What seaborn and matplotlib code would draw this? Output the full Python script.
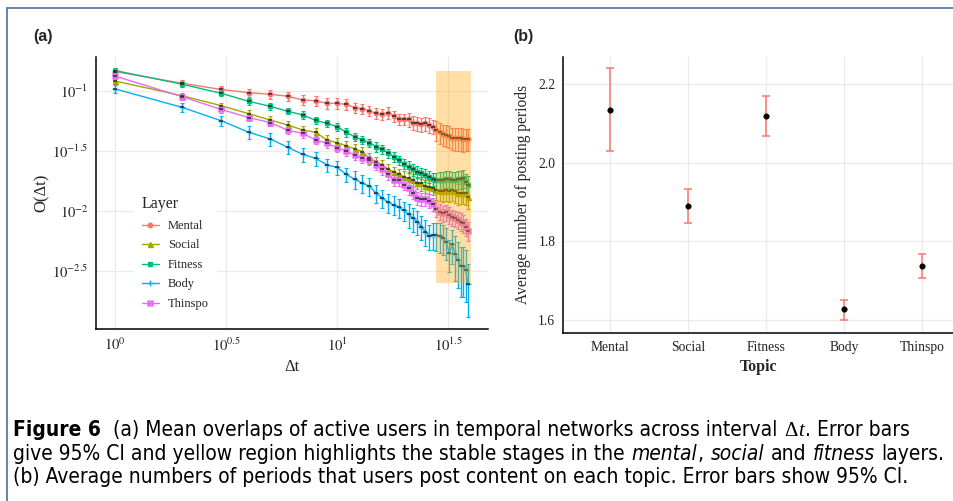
import numpy as np
import pandas as pd
import matplotlib
matplotlib.use("Agg")
from matplotlib import pyplot as plt
from matplotlib import font_manager as fm
from matplotlib.lines import Line2D
from matplotlib.path import Path
from matplotlib.ticker import NullLocator
import seaborn as sns

# ---- data ----
dt = list(range(1, 40))
layers = ['Mental', 'Social', 'Fitness', 'Body', 'Thinspo']

mental = [0.145, 0.116, 0.103, 0.0968, 0.0938, 0.0904, 0.0841, 0.0830, 0.0789, 0.0789,
          0.0774, 0.0726, 0.0713, 0.0681, 0.0652, 0.0640, 0.0659, 0.0619, 0.0581, 0.0581,
          0.0581, 0.0545, 0.0538, 0.0527, 0.0538, 0.0518, 0.0505, 0.0473, 0.0453, 0.0436,
          0.0430, 0.0422, 0.0408, 0.0404, 0.0404, 0.0404, 0.0395, 0.0401, 0.0401]
social = [0.121, 0.0914, 0.0755, 0.0647, 0.0573, 0.0521, 0.0473, 0.0453, 0.0391, 0.0371,
          0.0350, 0.0329, 0.0312, 0.0275, 0.0258, 0.0242, 0.0222, 0.0213, 0.0202, 0.0193,
          0.0187, 0.0181, 0.0172, 0.0170, 0.0161, 0.0160, 0.0156, 0.0150, 0.0147, 0.0147,
          0.0150, 0.0147, 0.0150, 0.0147, 0.0140, 0.0142, 0.0142, 0.0140, 0.0132]
fitness = [0.148, 0.114, 0.0957, 0.0820, 0.0745, 0.0678, 0.0631, 0.0570, 0.0538, 0.0505,
           0.0453, 0.0416, 0.0391, 0.0371, 0.0344, 0.0327, 0.0303, 0.0284, 0.0266, 0.0247,
           0.0234, 0.0222, 0.0213, 0.0206, 0.0200, 0.0193, 0.0185, 0.0181, 0.0181, 0.0181,
           0.0184, 0.0184, 0.0181, 0.0181, 0.0184, 0.0185, 0.0187, 0.0175, 0.0165]
body = [0.104, 0.0731, 0.0566, 0.0453, 0.0398, 0.0340, 0.0296, 0.0275, 0.0242, 0.0231,
        0.0202, 0.0184, 0.0170, 0.0161, 0.0140, 0.0128, 0.0118, 0.0112, 0.0107, 0.0101,
        0.00938, 0.00869, 0.00815, 0.00740, 0.00673, 0.00619, 0.00631, 0.00631, 0.00619, 0.00592,
        0.00555, 0.00444, 0.00531, 0.00439, 0.00391, 0.00348, 0.00348, 0.00322, 0.00245]
thinspo = [0.133, 0.0897, 0.0703, 0.0600, 0.0545, 0.0470, 0.0444, 0.0391, 0.0366, 0.0337,
           0.0316, 0.0293, 0.0278, 0.0266, 0.0242, 0.0222, 0.0202, 0.0181, 0.0181, 0.0165,
           0.0155, 0.0142, 0.0128, 0.0125, 0.0125, 0.0122, 0.0114, 0.0104, 0.00986, 0.00957,
           0.00973, 0.00927, 0.00885, 0.00869, 0.00841, 0.00815, 0.00789, 0.00740, 0.00685]

# 95% CI half width, relative to the mean
mental_ci = [0.05, 0.06, 0.07, 0.08, 0.08, 0.08, 0.10, 0.10, 0.10, 0.10,
             0.10, 0.10, 0.10, 0.10, 0.11, 0.11, 0.11, 0.11, 0.11, 0.11,
             0.13, 0.13, 0.13, 0.13, 0.13, 0.14, 0.14, 0.19, 0.20, 0.20,
             0.20, 0.20, 0.21, 0.21, 0.21, 0.21, 0.21, 0.21, 0.21]
social_ci = [0.05, 0.06, 0.06, 0.07, 0.07, 0.07, 0.09, 0.09, 0.09, 0.09,
             0.09, 0.10, 0.10, 0.10, 0.10, 0.10, 0.10, 0.10, 0.11, 0.11,
             0.12, 0.12, 0.12, 0.13, 0.13, 0.13, 0.13, 0.18, 0.18, 0.19,
             0.19, 0.19, 0.19, 0.20, 0.20, 0.20, 0.20, 0.20, 0.21]
fitness_ci = [0.04, 0.05, 0.05, 0.06, 0.06, 0.06, 0.07, 0.07, 0.07, 0.08,
              0.08, 0.08, 0.08, 0.08, 0.09, 0.09, 0.09, 0.09, 0.09, 0.09,
              0.11, 0.11, 0.11, 0.11, 0.12, 0.12, 0.12, 0.15, 0.16, 0.16,
              0.16, 0.16, 0.16, 0.17, 0.17, 0.17, 0.17, 0.17, 0.18]
body_ci = [0.07, 0.08, 0.10, 0.12, 0.12, 0.12, 0.13, 0.13, 0.13, 0.13,
           0.13, 0.17, 0.17, 0.17, 0.17, 0.18, 0.18, 0.18, 0.18, 0.18,
           0.23, 0.23, 0.23, 0.23, 0.24, 0.24, 0.25, 0.27, 0.28, 0.28,
           0.29, 0.30, 0.32, 0.40, 0.42, 0.45, 0.45, 0.46, 0.47]
thinspo_ci = [0.05, 0.06, 0.06, 0.07, 0.07, 0.07, 0.08, 0.08, 0.08, 0.08,
              0.09, 0.09, 0.09, 0.09, 0.10, 0.10, 0.10, 0.10, 0.10, 0.10,
              0.12, 0.12, 0.12, 0.12, 0.12, 0.13, 0.13, 0.15, 0.15, 0.15,
              0.15, 0.16, 0.16, 0.16, 0.16, 0.17, 0.17, 0.17, 0.18]

topics = ['Mental', 'Social', 'Fitness', 'Body', 'Thinspo']
periods_mean = [2.135, 1.889, 2.120, 1.627, 1.737]
periods_lo = [2.030, 1.848, 2.069, 1.599, 1.708]
periods_hi = [2.241, 1.932, 2.171, 1.652, 1.767]

# stable stage highlight
span_x = (28, 40)
span_y = (0.0025, 0.147)

# ---- style ----
sns.set_style('white')
plt.rcParams['font.family'] = ['Liberation Serif', 'DejaVu Serif']
plt.rcParams['mathtext.fontset'] = 'stix'

palette = {'Mental': '#F8766D', 'Social': '#A3A500', 'Fitness': '#00BF7D',
           'Body': '#00B0F6', 'Thinspo': '#E76BF3'}
boxx = Path([(-1, -1), (1, -1), (1, 1), (-1, 1), (-1, -1), (-1, -1), (1, 1), (-1, 1), (1, -1)],
            [Path.MOVETO, Path.LINETO, Path.LINETO, Path.LINETO, Path.CLOSEPOLY,
             Path.MOVETO, Path.LINETO, Path.MOVETO, Path.LINETO])
mk = {'Mental': dict(marker='o', ms=3.2),
      'Social': dict(marker='^', ms=3.6),
      'Fitness': dict(marker='s', ms=3.4),
      'Body': dict(marker='+', ms=5, mew=1.0),
      'Thinspo': dict(marker=boxx, ms=3.6, mfc='none', mew=0.9)}

fig = plt.figure(figsize=(9.54, 5.01), dpi=100)
W, H = 954, 501
ax1 = fig.add_axes([96 / W, 1 - 329 / H, 392 / W, 272 / H])
ax2 = fig.add_axes([563 / W, 1 - 333 / H, 391 / W, 276 / H])

grid_c = '#EBEBEB'
tick_c = '#222222'


def style_axes(ax, size):
    for s in ['top', 'right']:
        ax.spines[s].set_visible(False)
    for s in ['left', 'bottom']:
        ax.spines[s].set_color('black')
        ax.spines[s].set_linewidth(1.1)
    ax.grid(True, color=grid_c, lw=1.0)
    ax.set_axisbelow(True)
    ax.tick_params(axis='both', which='major', length=2.5, width=0.7, color='#333333',
                   labelcolor=tick_c, labelsize=size, pad=3)


# ---- panel (a) ----
series = {'Mental': (mental, mental_ci), 'Social': (social, social_ci),
          'Fitness': (fitness, fitness_ci), 'Body': (body, body_ci),
          'Thinspo': (thinspo, thinspo_ci)}
df = pd.DataFrame({'dt': dt * 5,
                   'O': mental + social + fitness + body + thinspo,
                   'Layer': np.repeat(layers, len(dt))})
sns.lineplot(data=df, x='dt', y='O', hue='Layer', palette=palette, lw=1.0,
             legend=False, ax=ax1, zorder=2)
for name in layers:
    vals, ci = series[name]
    vals = np.array(vals)
    err = vals * np.array(ci)
    ax1.errorbar(dt, vals, yerr=err, fmt='none', ecolor=palette[name], elinewidth=1.0,
                 capsize=1.3, capthick=0.8, zorder=3)
    ax1.plot(dt, vals, ls='none', color=palette[name], zorder=4, **mk[name])
    ax1.plot(dt, vals, ls='none', marker='_', ms=3.2, mew=1.1, color='#2a2a2a', zorder=5)

ax1.fill_between(list(span_x), span_y[0], span_y[1], color='orange', alpha=0.35, lw=0, zorder=6)

ax1.set_xscale('log')
ax1.set_yscale('log')
ax1.set_xlim(10 ** -0.086, 10 ** 1.68)
ax1.set_ylim(10 ** -2.983, 10 ** -0.717)
ax1.set_xticks([1, 10 ** 0.5, 10, 10 ** 1.5])
ax1.set_xticklabels([r'$10^{0}$', r'$10^{0.5}$', r'$10^{1}$', r'$10^{1.5}$'])
ax1.set_yticks([10 ** -1, 10 ** -1.5, 10 ** -2, 10 ** -2.5])
ax1.set_yticklabels([r'$10^{-1}$', r'$10^{-1.5}$', r'$10^{-2}$', r'$10^{-2.5}$'])
ax1.xaxis.set_minor_locator(NullLocator())
ax1.yaxis.set_minor_locator(NullLocator())
style_axes(ax1, 10.5)
ax1.set_xlabel('Δt', fontsize=12, labelpad=4)
ax1.set_ylabel('O(Δt)', fontsize=12, labelpad=2)

handles = [Line2D([], [], color=palette[n], lw=1.0, **mk[n]) for n in layers]
leg = ax1.legend(handles, layers, title='Layer', loc='upper left',
                 bbox_to_anchor=(0.097, 0.515), borderaxespad=0, frameon=True,
                 fontsize=9, title_fontsize=11.5, handlelength=1.4, handletextpad=0.7,
                 labelspacing=0.6, alignment='left', borderpad=0.6)
leg.get_frame().set_facecolor('white')
leg.get_frame().set_edgecolor('white')
leg.get_frame().set_alpha(1)
leg.set_zorder(7)

# ---- panel (b) ----
df2 = pd.DataFrame({'Topic': topics, 'mean': periods_mean})
yerr = [np.array(periods_mean) - np.array(periods_lo),
        np.array(periods_hi) - np.array(periods_mean)]
ax2.errorbar(range(len(topics)), periods_mean, yerr=yerr, fmt='none', ecolor='#F8766D',
             elinewidth=1.1, capsize=3.0, capthick=1.1, zorder=3)
sns.scatterplot(data=df2, x='Topic', y='mean', color='black', s=16, edgecolor='black',
                linewidth=0.3, ax=ax2, zorder=4)
ax2.set_xlim(-0.6, 4.41)
ax2.set_ylim(1.567, 2.269)
ax2.set_yticks([1.6, 1.8, 2.0, 2.2])
ax2.set_yticklabels(['1.6', '1.8', '2.0', '2.2'])
style_axes(ax2, 9.8)
ax2.set_xlabel('Topic', fontsize=11.5, fontweight='bold', labelpad=4)
ax2.set_ylabel('Average number of posting periods', fontsize=11.2, labelpad=5)

# panel letters
fig.text(33 / W, 1 - 37 / H, '(a)', fontsize=11.5, fontweight='bold',
         family='Liberation Sans', va='center', ha='left')
fig.text(513 / W, 1 - 37 / H, '(b)', fontsize=11.5, fontweight='bold',
         family='Liberation Sans', va='center', ha='left')

# frame lines
frame_c = '#5b7ea3'
fig.add_artist(Line2D([7.5 / W, 7.5 / W], [0, 1 - 7.5 / H], transform=fig.transFigure,
                      color=frame_c, lw=1.3))
fig.add_artist(Line2D([7.5 / W, 1], [1 - 7.5 / H, 1 - 7.5 / H], transform=fig.transFigure,
                      color=frame_c, lw=1.3))


# ---- caption, set piece by piece so bold / italic parts can sit inline ----
def caption_font():
    for f in fm.fontManager.ttflist:
        if 'dejavusanscondensed' in f.fname.lower().replace('-', '').replace('_', ''):
            return dict(family=f.name, fontstretch='condensed')
    names = {f.name for f in fm.fontManager.ttflist}
    if 'Liberation Sans Narrow' in names:
        return dict(family='Liberation Sans Narrow')
    return dict(family='Liberation Sans')


base = caption_font()
B = dict(fontweight='bold')
N = dict()
I = dict(fontstyle='italic')
MR = dict(family='Liberation Serif')
MI = dict(family='Liberation Serif', fontstyle='italic')
SP = None
cap_lines = [
    [('Figure 6', B), SP, SP, ('(a) Mean overlaps of active users in temporal networks across interval', N),
     SP, ('Δ', MR), ('t', MI), ('. Error bars', N)],
    [('give 95% CI and yellow region highlights the stable stages in the', N), SP, ('mental', I),
     (',', N), SP, ('social', I), SP, ('and', N), SP, ('fitness', I), SP, ('layers.', N)],
    [('(b) Average numbers of periods that users post content on each topic. Error bars show 95% CI.', N)],
]
cap_base = [436, 459.5, 483]
renderer = fig.canvas.get_renderer()


def set_caption(size):
    made, widths = [], []
    probe1 = fig.text(0, 0, 'a a', fontsize=size, **base)
    probe2 = fig.text(0, 0, 'aa', fontsize=size, **base)
    sp = probe1.get_window_extent(renderer).width - probe2.get_window_extent(renderer).width
    probe1.remove()
    probe2.remove()
    for segs, yb in zip(cap_lines, cap_base):
        x = 13.0
        for seg in segs:
            if seg is None:
                x += sp
                continue
            s, kw = seg
            props = dict(base)
            props.update(kw)
            t = fig.text(x / W, 1 - yb / H, s, fontsize=size, va='baseline', ha='left',
                         color='black', **props)
            x += t.get_window_extent(renderer).width + 0.6
            made.append(t)
        widths.append(x - 13.0)
    return made, widths


made, widths = set_caption(12)
k = 933 / widths[1]
for t in made:
    t.remove()
set_caption(12 * k)

fig.savefig('out.png', dpi=100)
